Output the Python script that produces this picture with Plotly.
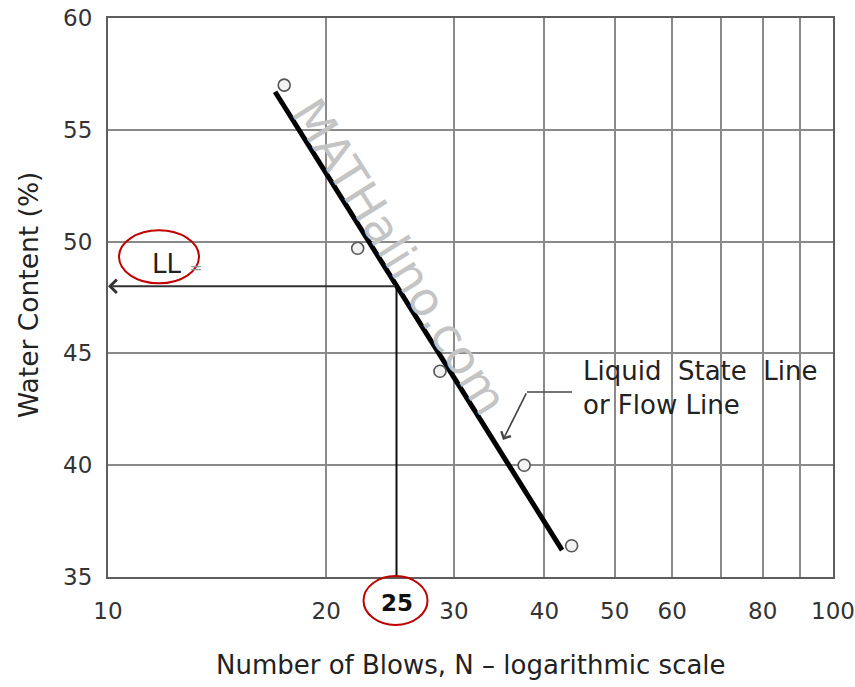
import math
import plotly.graph_objects as go

# ---- data ----
blows = [17.5, 22.1, 28.7, 37.5, 43.6]          # Number of blows N
water = [57.0, 49.7, 44.2, 40.0, 36.4]          # Water content (%)
flow_blows = [17.0, 42.3]                       # flow line end points
flow_water = [56.7, 36.2]
ll_blows = 25
ll_water = 48.0                                 # liquid limit read at N = 25
xtick_vals = [10, 20, 30, 40, 50, 60, 70, 80, 90, 100]
xtick_text = ["10", "20", "30", "40", "50", "60", "", "80", "", "100"]
ytick_vals = [35, 40, 45, 50, 55, 60]

# ---- geometry helpers (pixels -> paper) ----
W, H = 855, 687
L, R, T, B = 108, 22, 18, 110
PW, PH = W - L - R, H - T - B
def px(x):
    return (x - L) / PW
def py(y):
    return (H - B - y) / PH
def ypix(v):
    return T + (60 - v) * PH / 25.0

FONT = "DejaVu Sans, Verdana, sans-serif"

fig = go.Figure()

# vertical line at N = 25 up to the flow line
fig.add_trace(go.Scatter(x=[ll_blows, ll_blows], y=[35, ll_water], mode="lines",
                         line=dict(color="#111", width=2), hoverinfo="skip", showlegend=False))
# flow line
fig.add_trace(go.Scatter(x=flow_blows, y=flow_water, mode="lines",
                         line=dict(color="black", width=5), showlegend=False))
# test points
fig.add_trace(go.Scatter(x=blows, y=water, mode="markers",
                         marker=dict(symbol="circle", size=12, color="#f2f2f2",
                                     line=dict(color="#555", width=1.6)),
                         showlegend=False))

annotations = []
# watermark
annotations.append(dict(text="MATHalino.com", x=px(400), y=py(256), xref="paper", yref="paper",
                        showarrow=False, textangle=58,
                        font=dict(family="DejaVu Sans, sans-serif", size=47, color="#c4c4c4")))
# horizontal arrow from the 25-blow intersection to the y axis
annotations.append(dict(x=1, y=ll_water, ax=math.log10(ll_blows), ay=ll_water,
                        xref="x", yref="y", axref="x", ayref="y", text="",
                        showarrow=True, arrowhead=4, arrowsize=1.3, arrowwidth=2,
                        arrowcolor="#333"))
# LL label
ap = ypix(ll_water)
annotations.append(dict(text="LL <span style='font-size:16px;color:#999'>=</span>",
                        x=px(150), y=py(ap - 22), xref="paper", yref="paper",
                        xanchor="left", yanchor="middle", showarrow=False,
                        font=dict(family=FONT, size=26, color="#222")))
# flow line label
annotations.append(dict(text="Liquid  State  Line<br>or Flow Line",
                        x=px(581), y=py(388), xref="paper", yref="paper",
                        xanchor="left", yanchor="middle", align="left", showarrow=False,
                        font=dict(family=FONT, size=26, color="#222")))
# pointer arrow to flow line
annotations.append(dict(x=math.log10(35.06), y=41.13, xref="x", yref="y",
                        ax=24, ay=-48, text="", showarrow=True, arrowhead=4,
                        arrowsize=1.3, arrowwidth=1.6, arrowcolor="#444"))
# bold 25 tick label
annotations.append(dict(text="<b>25</b>", x=math.log10(ll_blows), y=py(603),
                        xref="x", yref="paper", showarrow=False, yanchor="middle",
                        font=dict(family=FONT, size=23, color="#111")))
# axis titles
annotations.append(dict(text="Number of Blows, N \u2013 logarithmic scale",
                        x=0.5, y=py(665), xref="paper", yref="paper", showarrow=False,
                        yanchor="middle", font=dict(family=FONT, size=26, color="#222")))
annotations.append(dict(text="Water Content (%)", x=px(28), y=py(295),
                        xref="paper", yref="paper", showarrow=False, textangle=-90,
                        xanchor="center", yanchor="middle",
                        font=dict(family=FONT, size=26.5, color="#222")))

x25 = L + math.log10(ll_blows / 10) * PW
shapes = [
    # horizontal lead of the pointer
    dict(type="line", xref="paper", yref="paper", x0=px(527), x1=px(572), y0=py(392), y1=py(392),
         line=dict(color="#444", width=1.6)),
    # red ellipse around LL
    dict(type="circle", xref="paper", yref="paper", x0=px(119), x1=px(199),
         y0=py(ap - 56), y1=py(ap - 3), line=dict(color="#c00000", width=2)),
    # red ellipse around 25
    dict(type="circle", xref="paper", yref="paper", x0=px(x25 - 33), x1=px(x25 + 31),
         y0=py(625), y1=py(576), line=dict(color="#c00000", width=2)),
]

fig.update_layout(
    width=W, height=H, autosize=False,
    margin=dict(l=L, r=R, t=T, b=B, autoexpand=False),
    paper_bgcolor="white", plot_bgcolor="white",
    showlegend=False,
    annotations=annotations, shapes=shapes,
    font=dict(family=FONT, color="#333"),
)
fig.update_xaxes(type="log", range=[1, 2], tickvals=xtick_vals, ticktext=xtick_text,
                 showgrid=True, gridcolor="#8a8a8a", gridwidth=1.5,
                 showline=True, mirror=True, linecolor="#5e5e5e", linewidth=2,
                 ticks="", ticklabelstandoff=12, zeroline=False, automargin=False,
                 tickfont=dict(family=FONT, size=23, color="#333"))
fig.update_yaxes(range=[35, 60], tickvals=ytick_vals,
                 showgrid=True, gridcolor="#8a8a8a", gridwidth=1.5,
                 showline=True, mirror=True, linecolor="#5e5e5e", linewidth=2,
                 ticks="", ticklabelstandoff=9, zeroline=False, automargin=False,
                 tickfont=dict(family=FONT, size=23, color="#333"))

fig.write_html("out.html", config={"displayModeBar": False},
               post_script="document.body.style.margin='0';document.body.style.overflow='hidden';")
